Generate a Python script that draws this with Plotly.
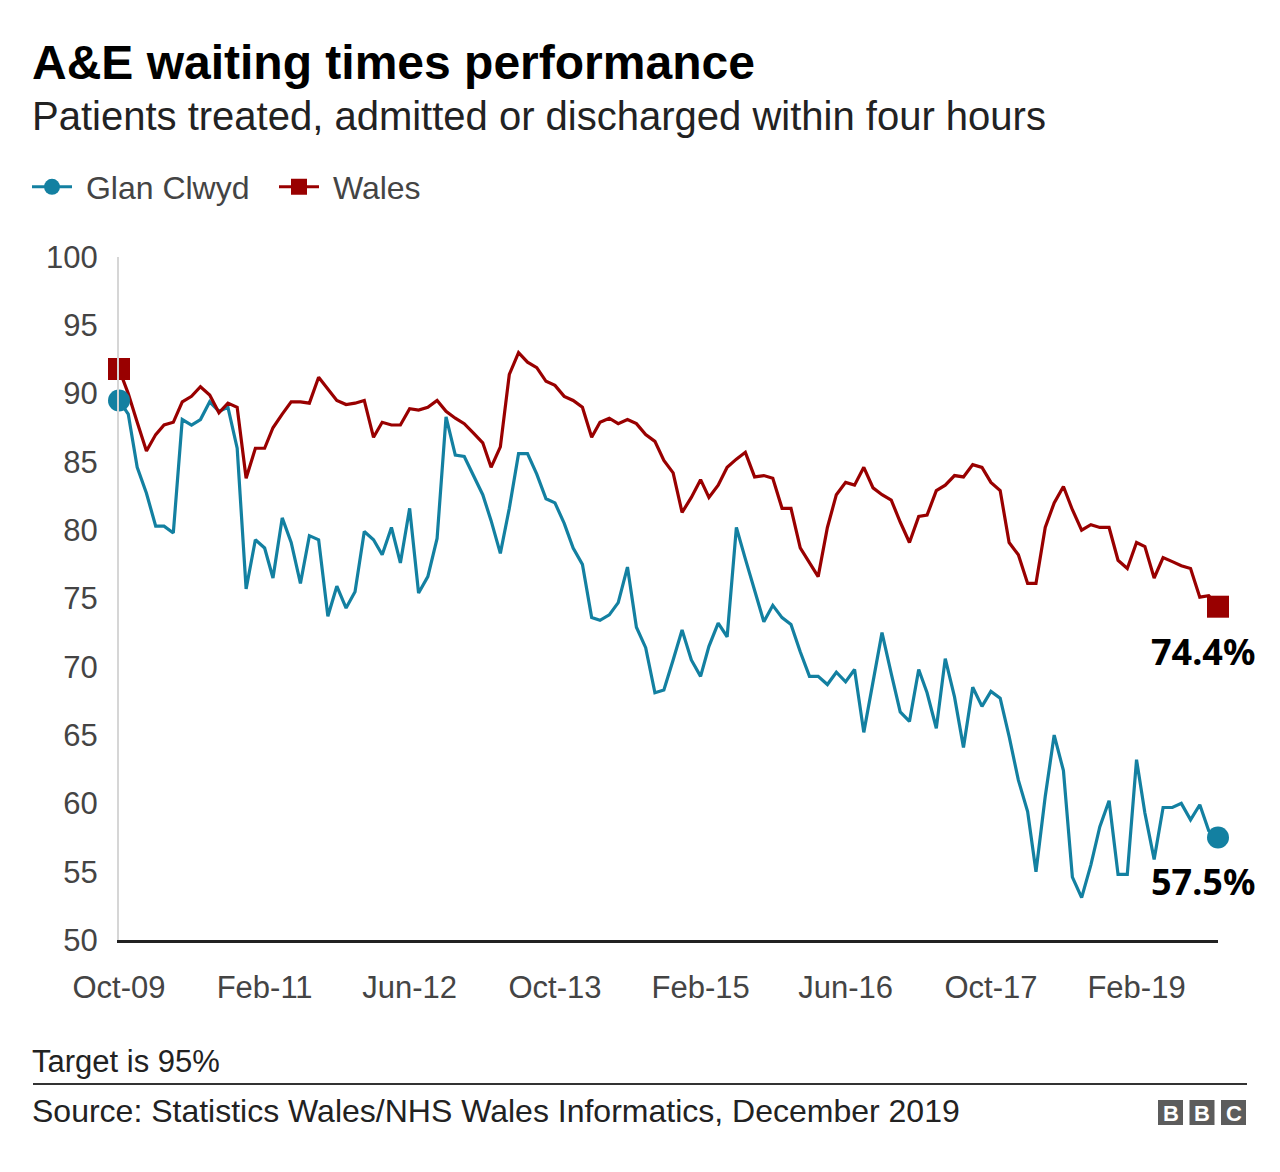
import plotly.graph_objects as go
import pandas as pd

# ---------------- data ----------------
START_MONTH = "2009-10-01"

glan_clwyd = [
    89.5, 88.5, 84.6, 82.7, 80.3, 80.3, 79.8, 88.1, 87.7, 88.1,
    89.4, 88.7, 89.0, 86.0, 75.7, 79.3, 78.7, 76.5, 80.9, 79.1,
    76.1, 79.6, 79.3, 73.7, 75.9, 74.3, 75.5, 79.9, 79.3, 78.2,
    80.2, 77.6, 81.6, 75.4, 76.6, 79.4, 88.3, 85.5, 85.4, 84.0,
    82.6, 80.7, 78.3, 81.6, 85.6, 85.6, 84.1, 82.3, 82.0, 80.5,
    78.7, 77.5, 73.6, 73.4, 73.8, 74.7, 77.3, 72.9, 71.4, 68.1,
    68.3, 70.5, 72.7, 70.5, 69.3, 71.5, 73.2, 72.2, 80.2, 77.9,
    75.6, 73.3, 74.5, 73.6, 73.1, 71.1, 69.3, 69.3, 68.7, 69.6,
    68.9, 69.8, 65.2, 69.0, 72.5, 69.5, 66.7, 66.0, 69.8, 68.1,
    65.5, 70.6, 67.8, 64.1, 68.5, 67.1, 68.2, 67.7, 64.9, 61.7,
    59.4, 55.0, 60.5, 65.0, 62.4, 54.6, 53.1, 55.5, 58.3, 60.2,
    54.8, 54.8, 63.2, 59.3, 55.9, 59.7, 59.7, 60.0, 58.8, 59.9,
    58.0, 57.5,
]

wales = [
    91.8, 90.0, 87.9, 85.8, 87.0, 87.7, 87.9, 89.4, 89.8, 90.5,
    89.9, 88.6, 89.3, 89.0, 83.8, 86.0, 86.0, 87.5, 88.5, 89.4,
    89.4, 89.3, 91.2, 90.3, 89.5, 89.2, 89.3, 89.5, 86.8, 87.9,
    87.7, 87.7, 88.9, 88.8, 89.0, 89.5, 88.7, 88.2, 87.8, 87.1,
    86.4, 84.6, 86.1, 91.4, 93.0, 92.3, 91.9, 90.9, 90.6, 89.8,
    89.5, 89.0, 86.8, 87.9, 88.2, 87.8, 88.1, 87.8, 87.0, 86.5,
    85.1, 84.2, 81.3, 82.4, 83.7, 82.4, 83.3, 84.6, 85.2, 85.7,
    83.9, 84.0, 83.8, 81.6, 81.6, 78.7, 77.6, 76.6, 80.2, 82.6,
    83.5, 83.3, 84.6, 83.1, 82.6, 82.2, 80.6, 79.1, 81.0, 81.1,
    82.9, 83.3, 84.0, 83.9, 84.8, 84.6, 83.5, 82.9, 79.1, 78.2,
    76.1, 76.1, 80.2, 82.0, 83.2, 81.5, 80.0, 80.4, 80.2, 80.2,
    77.8, 77.2, 79.1, 78.8, 76.5, 78.0, 77.7, 77.4, 77.2, 75.1,
    75.2, 74.4,
]

x_tick_labels = ["Oct-09", "Feb-11", "Jun-12", "Oct-13", "Feb-15", "Jun-16", "Oct-17", "Feb-19"]
y_ticks = [50, 55, 60, 65, 70, 75, 80, 85, 90, 95, 100]

series_names = ["Glan Clwyd", "Wales"]

# ---------------- styling ----------------
BLUE = "#1380A1"
RED = "#990000"
FONT = "Liberation Sans, Arial, sans-serif"

WIN_W, WIN_H = 1280, 1172
OFF = 8  # page body margin
W, H = WIN_W - OFF, WIN_H - OFF
PLOT_LEFT, PLOT_RIGHT, PLOT_TOP, PLOT_BOTTOM = 119, 1218, 257, 940  # window px
L = PLOT_LEFT - OFF
T = PLOT_TOP - OFF
R = WIN_W - PLOT_RIGHT
B = WIN_H - PLOT_BOTTOM
PW, PH = PLOT_RIGHT - PLOT_LEFT, PLOT_BOTTOM - PLOT_TOP


def px_x(px):
    return (px - PLOT_LEFT) / PW


def px_y(py):
    return (PLOT_BOTTOM - py) / PH


months = pd.date_range(START_MONTH, periods=len(wales), freq="MS")
tick_dates = [pd.to_datetime(t, format="%b-%y") for t in x_tick_labels]

fig = go.Figure()

series = [(series_names[0], glan_clwyd, BLUE, "circle", 22),
          (series_names[1], wales, RED, "square", 22)]

for name, vals, col, sym, msize in series:
    fig.add_trace(go.Scatter(
        x=months, y=vals, mode="lines", name=name, showlegend=False,
        line=dict(color=col, width=3.2), hoverinfo="x+y+name"))

for name, vals, col, sym, msize in series:
    fig.add_trace(go.Scatter(
        x=[months[0], months[-1]], y=[vals[0], vals[-1]], mode="markers",
        showlegend=False, cliponaxis=False, hoverinfo="skip",
        marker=dict(symbol=sym, size=msize, color=col)))

for name, vals, col, sym, msize in series:
    fig.add_trace(go.Scatter(
        x=[None], y=[None], mode="lines+markers", name=" " + name, showlegend=True,
        line=dict(color=col, width=3), marker=dict(symbol=sym, size=16, color=col)))

annotations = [
    dict(text="<b>A&E waiting times performance</b>", x=px_x(30), y=px_y(62),
         xref="paper", yref="paper", xanchor="left", yanchor="middle", showarrow=False,
         font=dict(family=FONT, size=48, color="#000000")),
    dict(text="Patients treated, admitted or discharged within four hours", x=px_x(30), y=px_y(116),
         xref="paper", yref="paper", xanchor="left", yanchor="middle", showarrow=False,
         font=dict(family=FONT, size=40, color="#222222")),
    dict(text="Target is 95%", x=px_x(30), y=px_y(1061),
         xref="paper", yref="paper", xanchor="left", yanchor="middle", showarrow=False,
         font=dict(family=FONT, size=31, color="#222222")),
    dict(text="Source: Statistics Wales/NHS Wales Informatics, December 2019", x=px_x(30), y=px_y(1111),
         xref="paper", yref="paper", xanchor="left", yanchor="middle", showarrow=False,
         font=dict(family=FONT, size=32, color="#222222")),
]

# end-value labels
for vals, dy in [(wales, -45), (glan_clwyd, -44)]:
    annotations.append(dict(
        text=f"<b>{vals[-1]:.1f}%</b>", x=months[-1], y=vals[-1], xref="x", yref="y",
        xanchor="right", yanchor="middle", xshift=39, yshift=dy, showarrow=False,
        font=dict(family="Noto Sans, DejaVu Sans, sans-serif", size=36, color="#000000")))

shapes = [
    dict(type="line", xref="paper", yref="paper", x0=px_x(33), x1=px_x(1247),
         y0=px_y(1084), y1=px_y(1084), line=dict(color="#333333", width=2)),
]

# BBC logo blocks
for i, letter in enumerate("BBC"):
    x0 = 1158 + i * 31.5
    shapes.append(dict(type="rect", xref="paper", yref="paper",
                       x0=px_x(x0), x1=px_x(x0 + 25), y0=px_y(1125), y1=px_y(1100),
                       fillcolor="#5c5c5c", line=dict(width=0)))
    annotations.append(dict(text=f"<b>{letter}</b>", x=px_x(x0 + 12.5), y=px_y(1113),
                            xref="paper", yref="paper", xanchor="center", yanchor="middle",
                            showarrow=False, font=dict(family=FONT, size=22, color="#ffffff")))

fig.update_layout(
    width=W, height=H, autosize=False,
    margin=dict(l=L, r=R, t=T, b=B, pad=0),
    paper_bgcolor="#ffffff", plot_bgcolor="#ffffff",
    font=dict(family=FONT, color="#444444"),
    showlegend=True,
    legend=dict(orientation="h", xref="container", yref="container",
                x=(27 - OFF) / W, y=1 - (187 - OFF) / H, xanchor="left", yanchor="middle",
                font=dict(family=FONT, size=32, color="#444444"),
                itemwidth=40, entrywidth=192, entrywidthmode="pixels",
                bgcolor="rgba(0,0,0,0)", traceorder="normal"),
    annotations=annotations,
    shapes=shapes,
    hovermode="closest",
)

fig.update_xaxes(
    type="date", range=[months[0], months[-1]],
    tickvals=tick_dates, ticktext=x_tick_labels,
    showgrid=False, zeroline=False,
    showline=True, linecolor="#222222", linewidth=3,
    ticks="", ticklabelstandoff=18,
    tickfont=dict(family=FONT, size=31, color="#444444"),
)
fig.update_yaxes(
    range=[50, 100], tickvals=y_ticks,
    showgrid=False, zeroline=False,
    showline=True, linecolor="#d6d6d6", linewidth=2,
    ticks="", ticklabelstandoff=13,
    tickfont=dict(family=FONT, size=31, color="#444444"),
)

fig.write_html("out.html")
